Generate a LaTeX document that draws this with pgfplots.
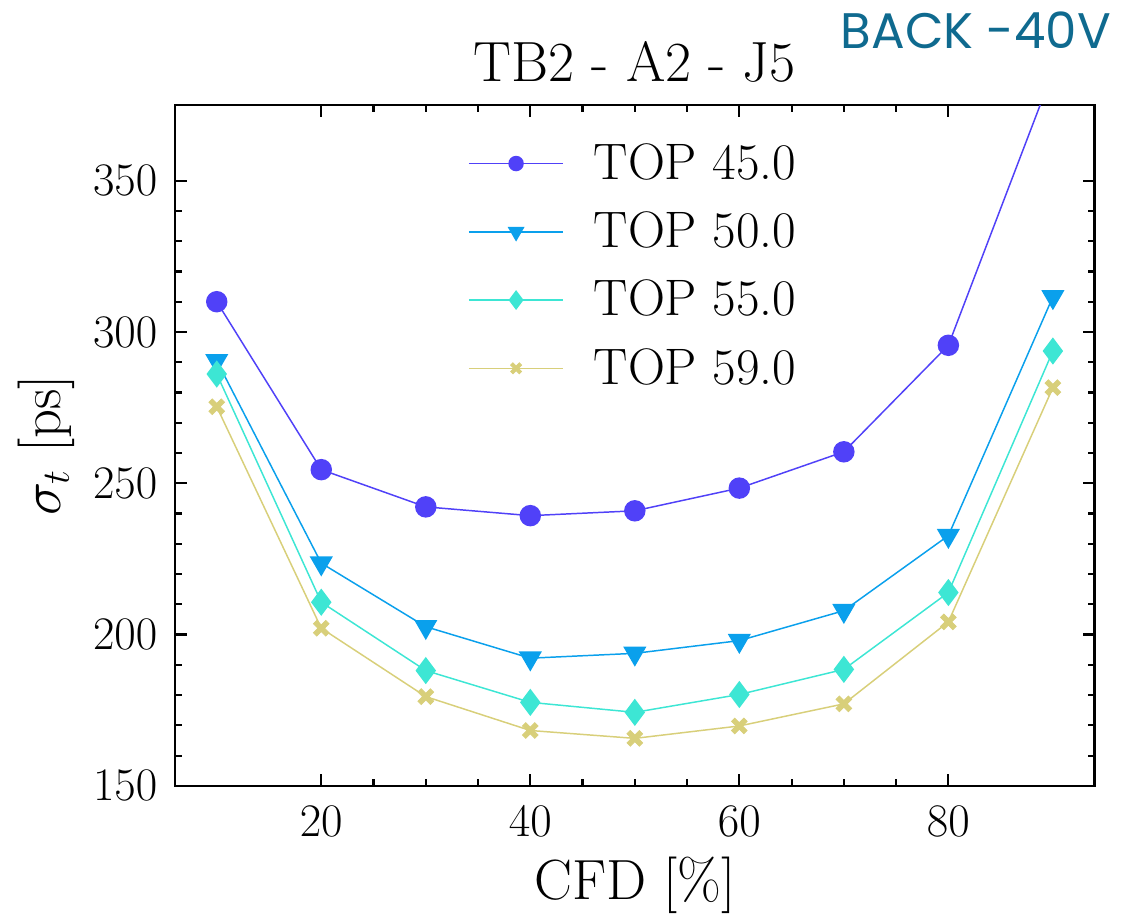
\documentclass[border=0pt]{standalone}
\usepackage{fontspec}
\usepackage{pgfplots}
\pgfplotsset{compat=1.18}
\newfontfamily\backfont{Poppins}

\definecolor{cA}{HTML}{5041F8}
\definecolor{cB}{HTML}{0AA0EC}
\definecolor{cC}{HTML}{3DE6D4}
\definecolor{cD}{HTML}{D8CF7A}
\definecolor{backteal}{HTML}{0F6A8F}

% filled cross marker
\pgfdeclareplotmark{Xfill}{%
  \pgfpathmoveto{\pgfpoint{0pt}{0.42\pgfplotmarksize}}%
  \pgfpathlineto{\pgfpoint{0.58\pgfplotmarksize}{\pgfplotmarksize}}%
  \pgfpathlineto{\pgfpoint{\pgfplotmarksize}{0.58\pgfplotmarksize}}%
  \pgfpathlineto{\pgfpoint{0.42\pgfplotmarksize}{0pt}}%
  \pgfpathlineto{\pgfpoint{\pgfplotmarksize}{-0.58\pgfplotmarksize}}%
  \pgfpathlineto{\pgfpoint{0.58\pgfplotmarksize}{-\pgfplotmarksize}}%
  \pgfpathlineto{\pgfpoint{0pt}{-0.42\pgfplotmarksize}}%
  \pgfpathlineto{\pgfpoint{-0.58\pgfplotmarksize}{-\pgfplotmarksize}}%
  \pgfpathlineto{\pgfpoint{-\pgfplotmarksize}{-0.58\pgfplotmarksize}}%
  \pgfpathlineto{\pgfpoint{-0.42\pgfplotmarksize}{0pt}}%
  \pgfpathlineto{\pgfpoint{-\pgfplotmarksize}{0.58\pgfplotmarksize}}%
  \pgfpathlineto{\pgfpoint{-0.58\pgfplotmarksize}{\pgfplotmarksize}}%
  \pgfpathclose
  \pgfusepathqfillstroke
}

\newcommand{\tickfont}{\fontsize{18}{21}\selectfont}
\newcommand{\legfont}{\fontsize{19}{22}\selectfont}
\newcommand{\labfont}{\fontsize{21}{25}\selectfont}

\begin{document}
\begin{tikzpicture}
\begin{axis}[
  at={(0,0)}, anchor=south west,
  scale only axis,
  width=340.7pt, height=252.2pt,
  xmin=6, xmax=94, ymin=150, ymax=375,
  xtick={20,40,60,80}, minor x tick num=3,
  ytick={150,200,250,300,350}, minor y tick num=4,
  tick align=inside,
  major tick length=4.4pt, minor tick length=2.6pt,
  every tick/.style={black, line width=0.8pt},
  axis line style={line width=0.9pt},
  tick label style={font=\tickfont},
  xticklabel style={yshift=-4pt},
  yticklabel style={xshift=-3pt},
  xlabel={CFD [\%]}, ylabel={$\sigma_t$ [ps]},
  label style={font=\labfont},
  xlabel style={yshift=-1pt},
  ylabel style={yshift=0pt},
  title={TB2 - A2 - J5},
  title style={font=\labfont, yshift=-1pt},
  legend cell align=left,
  legend style={at={(0.5,0.96)}, anchor=north, draw=none, fill=none,
    font=\legfont, row sep=6.5pt,
    /tikz/every odd column/.append style={column sep=9pt}},
  legend image code/.code={
    \draw[mark repeat=2, mark phase=2, /tikz/every mark/.append style={scale=0.7}]
      plot coordinates {(0pt,0pt) (17.5pt,0pt) (35pt,0pt)};
  },
  every axis plot/.append style={line width=0.55pt},
]
\addplot[color=cA, mark=*, mark size=3.7pt, mark options={solid, fill=cA, draw=cA}]
  coordinates {(10,310.0) (20,254.5) (30,242.2) (40,239.3) (50,240.9) (60,248.4) (70,260.4) (80,295.6) (90,386.0)};
\addlegendentry{TOP 45.0}
\addplot[color=cB, mark=triangle*, mark size=4.4pt, mark options={solid, rotate=180, fill=cB, draw=cB}]
  coordinates {(10,290.5) (20,223.6) (30,202.6) (40,192.2) (50,193.8) (60,198.0) (70,207.9) (80,232.7) (90,311.6)};
\addlegendentry{TOP 50.0}
\addplot[color=cC, mark=diamond*, mark size=4.6pt, mark options={solid, fill=cC, draw=cC}]
  coordinates {(10,286.1) (20,210.7) (30,188.1) (40,177.6) (50,174.3) (60,180.2) (70,188.5) (80,213.9) (90,293.7)};
\addlegendentry{TOP 55.0}
\addplot[color=cD, mark=Xfill, mark size=2.9pt, mark options={solid, fill=cD, draw=cD, line width=0.3pt}]
  coordinates {(10,275.3) (20,202.1) (30,179.5) (40,168.3) (50,165.7) (60,169.8) (70,177.1) (80,204.2) (90,281.6)};
\addlegendentry{TOP 59.0}
\end{axis}
\node[backteal, font=\backfont\fontsize{18.5}{22}\selectfont, anchor=center] at (296.7pt,280pt) {BACK -40V};
\useasboundingbox (-64.8pt,-45.6pt) rectangle (350.8pt,291.1pt);
\end{tikzpicture}
\end{document}
